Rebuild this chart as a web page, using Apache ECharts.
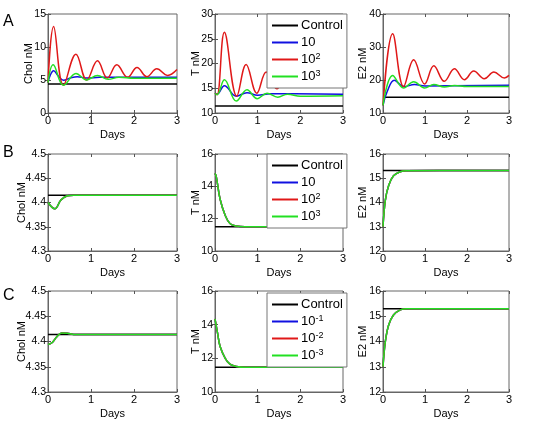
<!DOCTYPE html>
<html>
<head>
<meta charset="utf-8">
<script src="https://cdn.jsdelivr.net/npm/echarts@6/dist/echarts.min.js"></script>
<style>
	html, body { margin: 0; padding: 0; background: #fff; }
	#chart { width: 533px; height: 429px; }
</style>
</head>
<body>
<div id="chart"></div>
<script>
// legend names
var namesAB = ['Control', '10', '10^2', '10^3'];
var namesC = ['Control', '10^-1', '10^-2', '10^-3'];

// tick ranges [min, max, interval]
var cholRangeA = [0, 15, 5];
var tRangeA = [10, 30, 5];
var e2RangeA = [10, 40, 10];
var cholRangeBC = [4.3, 4.5, 0.05];
var tRangeBC = [10, 16, 2];
var e2RangeBC = [12, 16, 1];

// panel A, [day, value]
var cholA_control = [[0, 4.4], [3, 4.4]];
var cholA_10 = [[0, 4.6], [0.05, 5.7], [0.13, 6.4], [0.24, 5.6], [0.36, 4.95], [0.52, 5.3], [0.68, 5.5], [0.9, 5.3], [1.2, 5.4], [3, 5.4]];
var cholA_100 = [[0, 4.6], [0.13, 13.1], [0.36, 4.2], [0.65, 8.9], [0.9, 5.0], [1.15, 7.9], [1.38, 5.3], [1.6, 7.3], [1.85, 5.4], [2.07, 6.9], [2.3, 5.5], [2.53, 6.7], [2.78, 5.7], [3, 6.6]];
var cholA_1000 = [[0, 4.6], [0.12, 7.3], [0.36, 4.2], [0.65, 6.0], [0.9, 5.0], [1.15, 5.7], [1.4, 5.1], [1.65, 5.4], [2.0, 5.25], [3, 5.25]];

var tA_control = [[0, 11.4], [3, 11.4]];
var tA_10 = [[0, 14.0], [0.05, 13.8], [0.22, 15.5], [0.5, 13.4], [0.75, 14.1], [1.0, 13.6], [1.3, 13.9], [3, 13.8]];
var tA_100 = [[0, 14.0], [0.05, 13.7], [0.22, 26.3], [0.51, 13.4], [0.73, 19.8], [0.98, 14.0], [1.2, 18.3], [1.45, 14.9], [1.68, 17.5], [1.93, 15.2], [2.16, 17.0], [2.42, 15.4], [2.64, 16.7], [2.9, 15.6], [3, 16.0]];
var tA_1000 = [[0, 14.0], [0.05, 13.7], [0.22, 16.7], [0.5, 12.4], [0.75, 14.7], [0.99, 12.9], [1.22, 14.0], [1.47, 13.2], [1.7, 13.8], [2.0, 13.4], [3, 13.5]];

var e2A_control = [[0, 14.8], [3, 14.8]];
var e2A_10 = [[0, 12.3], [0.1, 16.5], [0.27, 19.9], [0.5, 18.0], [0.75, 18.6], [1.0, 18.2], [3, 18.4]];
var e2A_100 = [[0, 12.3], [0.23, 34.0], [0.49, 18.0], [0.73, 26.1], [0.99, 18.8], [1.21, 24.3], [1.46, 19.6], [1.7, 23.4], [1.94, 20.1], [2.16, 22.7], [2.41, 20.4], [2.64, 22.4], [2.89, 20.6], [3, 21.4]];
var e2A_1000 = [[0, 12.3], [0.23, 21.4], [0.49, 17.6], [0.73, 19.5], [0.99, 17.6], [1.21, 18.6], [1.46, 17.9], [1.7, 18.3], [2.0, 18.0], [3, 18.0]];

// panel B
var cholB_control = [[0, 4.415], [3, 4.415]];
var cholB_dose = [[0, 4.400], [0.16, 4.387], [0.3, 4.405], [0.45, 4.414], [0.6, 4.4152], [3, 4.415]];
var tB_control = [[0, 11.5], [3, 11.5]];
var tB_dose = [[0, 14.8], [0.03, 14.6], [0.12, 13.2], [0.24, 12.2], [0.35, 11.7], [0.5, 11.55], [0.7, 11.5], [3, 11.5]];
var e2B_control = [[0, 15.32], [3, 15.32]];
var e2B_dose = [[0, 13.0], [0.056, 14.1], [0.135, 14.7], [0.25, 15.1], [0.41, 15.27], [0.55, 15.31], [3, 15.32]];

// panel C
var cholC_control = [[0, 4.414], [3, 4.414]];
var cholC_dose = [[0, 4.394], [0.1, 4.398], [0.2, 4.409], [0.32, 4.417], [0.45, 4.4165], [0.6, 4.414], [3, 4.414]];
var tC_control = [[0, 11.47], [3, 11.47]];
var tC_dose = [[0, 14.35], [0.06, 13.5], [0.12, 12.7], [0.24, 12.0], [0.35, 11.65], [0.5, 11.52], [0.7, 11.47], [3, 11.47]];
var e2C_control = [[0, 15.3], [3, 15.3]];
var e2C_dose = [[0, 13.0], [0.056, 14.0], [0.135, 14.65], [0.25, 15.05], [0.41, 15.25], [0.55, 15.3], [3, 15.3]];

var FONT = 'Arial, "Liberation Sans", sans-serif';
var NARROW = '"Liberation Sans Narrow", "Arial Narrow", Arial, sans-serif';
var colors = ['#000000', '#1010e0', '#e01818', '#22e022'];

var cols = [{left: 48, width: 129}, {left: 215, width: 128}, {left: 383, width: 126}];
var rows = [{top: 14, height: 99}, {top: 154, height: 97}, {top: 291, height: 101}];

var panels = [
	{r: 0, c: 0, label: 'Chol nM', range: cholRangeA, lines: [cholA_control, cholA_10, cholA_100, cholA_1000], names: namesAB},
	{r: 0, c: 1, label: 'T nM', range: tRangeA, lines: [tA_control, tA_10, tA_100, tA_1000], names: namesAB},
	{r: 0, c: 2, label: 'E2 nM', range: e2RangeA, lines: [e2A_control, e2A_10, e2A_100, e2A_1000], names: namesAB},
	{r: 1, c: 0, label: 'Chol nM', range: cholRangeBC, lines: [cholB_control, cholB_dose, cholB_dose, cholB_dose], names: namesAB},
	{r: 1, c: 1, label: 'T nM', range: tRangeBC, lines: [tB_control, tB_dose, tB_dose, tB_dose], names: namesAB},
	{r: 1, c: 2, label: 'E2 nM', range: e2RangeBC, lines: [e2B_control, e2B_dose, e2B_dose, e2B_dose], names: namesAB},
	{r: 2, c: 0, label: 'Chol nM', range: cholRangeBC, lines: [cholC_control, cholC_dose, cholC_dose, cholC_dose], names: namesC},
	{r: 2, c: 1, label: 'T nM', range: tRangeBC, lines: [tC_control, tC_dose, tC_dose, tC_dose], names: namesC},
	{r: 2, c: 2, label: 'E2 nM', range: e2RangeBC, lines: [e2C_control, e2C_dose, e2C_dose, e2C_dose], names: namesC}
];

var grid = [], xAxis = [], yAxis = [], series = [], legend = [];

panels.forEach(function(p, i) {
	grid.push({
		left: cols[p.c].left, width: cols[p.c].width,
		top: rows[p.r].top, height: rows[p.r].height,
		show: true, borderColor: '#666', borderWidth: 1, backgroundColor: '#fff'
	});
	var tick = {show: true, inside: true, length: 3, lineStyle: {color: '#555'}};
	xAxis.push({
		gridIndex: i, type: 'value', min: 0, max: 3, interval: 1,
		name: 'Days', nameLocation: 'middle', nameGap: 16, nameMoveOverlap: false,
		nameTextStyle: {fontFamily: NARROW, fontSize: 11, color: '#000'},
		axisLine: {show: true, lineStyle: {color: '#666'}},
		axisTick: tick, splitLine: {show: false},
		axisLabel: {fontFamily: NARROW, fontSize: 11, color: '#000', margin: 2}
	});
	xAxis.push({
		gridIndex: i, type: 'value', position: 'top', min: 0, max: 3, interval: 1,
		axisLine: {show: false}, axisTick: tick, axisLabel: {show: false}, splitLine: {show: false}
	});
	yAxis.push({
		gridIndex: i, type: 'value', min: p.range[0], max: p.range[1], interval: p.range[2],
		name: p.label, nameLocation: 'middle', nameRotate: 90, nameMoveOverlap: false,
		nameGap: p.range[2] < 1 ? 21 : (p.c === 2 ? 15 : 14),
		nameTextStyle: {fontFamily: NARROW, fontSize: 11, color: '#000'},
		axisLine: {show: true, lineStyle: {color: '#666'}},
		axisTick: tick, splitLine: {show: false},
		axisLabel: {fontFamily: NARROW, fontSize: 10.5, color: '#000', margin: 2}
	});
	yAxis.push({
		gridIndex: i, type: 'value', position: 'right', min: p.range[0], max: p.range[1], interval: p.range[2],
		axisLine: {show: false}, axisTick: tick, axisLabel: {show: false}, splitLine: {show: false}
	});
	p.lines.forEach(function(d, k) {
		series.push({
			name: p.names[k], type: 'line',
			xAxisIndex: 2 * i, yAxisIndex: 2 * i,
			data: d, smooth: 0.4, showSymbol: false, symbol: 'none',
			lineStyle: {width: 1.5, color: colors[k]},
			itemStyle: {color: colors[k]},
			z: 2 + k
		});
	});
	if (p.c === 1) {
		legend.push({
			data: p.names, orient: 'vertical',
			left: 267, top: rows[p.r].top + (p.r === 2 ? 2 : 0),
			padding: [4, 4, 4, 5], itemGap: 2,
			itemWidth: 26, itemHeight: 2, icon: 'rect',
			backgroundColor: '#fff', borderColor: '#777', borderWidth: 1,
			selectedMode: false, z: 10,
			formatter: function(n) {
				return n.replace(/\^(-?\d)/, '{s|$1}');
			},
			textStyle: {
				fontFamily: FONT, fontSize: 13, color: '#000', lineHeight: 15, padding: [0, 0, 0, -2],
				rich: {s: {fontFamily: FONT, fontSize: 9, color: '#000', verticalAlign: 'top', lineHeight: 9}}
			}
		});
	}
});

var letters = [{t: 'A', y: 14}, {t: 'B', y: 145}, {t: 'C', y: 288}];
var title = letters.map(function(l) {
	return {text: l.t, left: 3, top: l.y, padding: 0,
		textStyle: {fontFamily: FONT, fontSize: 16, fontWeight: 'normal', color: '#000'}};
});

var myChart = echarts.init(document.getElementById('chart'));
myChart.setOption({
	animation: false,
	backgroundColor: '#fff',
	title: title,
	legend: legend,
	grid: grid,
	xAxis: xAxis,
	yAxis: yAxis,
	series: series
});
</script>
</body>
</html>
